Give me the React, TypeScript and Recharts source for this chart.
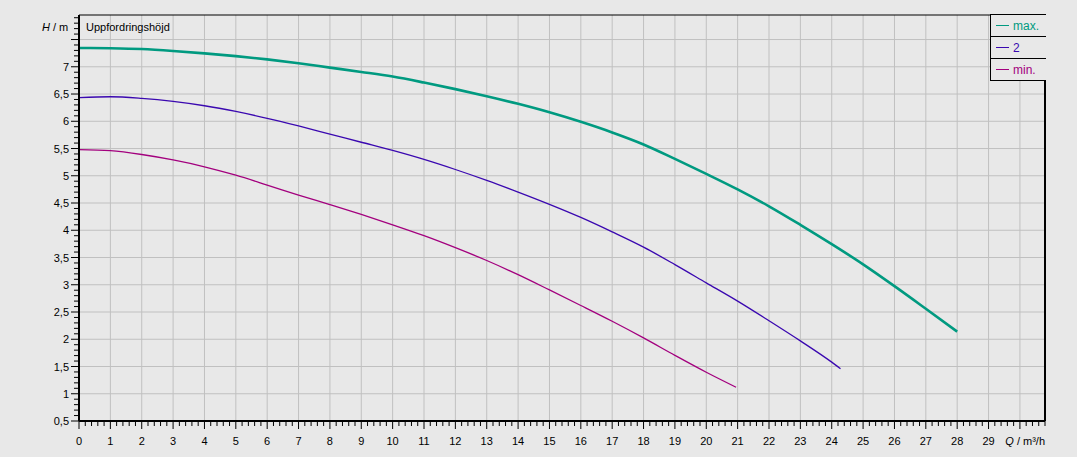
import React from 'react';
import { LineChart, Line, XAxis, YAxis, CartesianGrid, ReferenceLine } from 'recharts';

// pump curves, head H (m) over flow Q (m³/h)
const maxFlow = [0, 1, 2, 3, 4, 5, 6, 7, 8, 9, 10, 11, 12, 13, 14, 15, 16, 17, 18, 19, 20, 21, 22, 23, 24, 25, 26, 27, 28];
const maxHead = [7.345, 7.34, 7.325, 7.29, 7.245, 7.195, 7.135, 7.065, 6.985, 6.905, 6.82, 6.71, 6.59, 6.46, 6.32, 6.165, 5.99, 5.795, 5.575, 5.31, 5.035, 4.75, 4.44, 4.1, 3.745, 3.375, 2.975, 2.56, 2.14];

const midFlow = [0, 1, 2, 3, 4, 5, 6, 7, 8, 9, 10, 11, 12, 13, 14, 15, 16, 17, 18, 19, 20, 21, 22, 23, 24, 24.28];
const midHead = [6.435, 6.45, 6.42, 6.365, 6.285, 6.18, 6.055, 5.915, 5.765, 5.615, 5.465, 5.3, 5.115, 4.915, 4.7, 4.475, 4.235, 3.97, 3.69, 3.37, 3.035, 2.7, 2.34, 1.97, 1.58, 1.46];

const minFlow = [0, 1, 2, 3, 4, 5, 6, 7, 8, 9, 10, 11, 12, 13, 14, 15, 16, 17, 18, 19, 20, 20.95];
const minHead = [5.48, 5.46, 5.39, 5.29, 5.165, 5.01, 4.83, 4.645, 4.47, 4.29, 4.1, 3.9, 3.68, 3.445, 3.185, 2.905, 2.62, 2.33, 2.025, 1.705, 1.395, 1.12];

const seriesNames = ['max.', '2', 'min.'];
const seriesColors = ['#009a80', '#3a08b0', '#a3007e'];

const qDomain: [number, number] = [0, 30.8];
const hDomain: [number, number] = [0.5, 7.95];
const qMajor = [0, 1, 2, 3, 4, 5, 6, 7, 8, 9, 10, 11, 12, 13, 14, 15, 16, 17, 18, 19, 20, 21, 22, 23, 24, 25, 26, 27, 28, 29, 30];
const hMajor = [0.5, 1, 1.5, 2, 2.5, 3, 3.5, 4, 4.5, 5, 5.5, 6, 6.5, 7, 7.5];

// minor ticks: every 0.2 on Q, every 0.1 on H
const qTicks = Array.from({ length: 155 }, (_, i) => Math.round(i * 2) / 10);
const hTicks = Array.from({ length: 75 }, (_, i) => Math.round(5 + i) / 10);

const toPoints = (q: number[], h: number[]) => q.map((x, i) => ({ q: x, h: h[i] }));
const fmt = (v: number) => String(v).replace('.', ',');
const isMajor = (v: number, list: number[]) => list.some((m) => Math.abs(m - v) < 1e-6);

const FONT = '"Liberation Sans", Arial, sans-serif';

const YTick = (props: any) => {
  const { x, y, payload } = props;
  const v = payload.value;
  const major = isMajor(v, hMajor);
  return (
    <g>
      <line x1={x - (major ? 8 : 5)} x2={x} y1={y} y2={y} stroke="#000" />
      {major && v < 7.25 && (
        <text x={x - 10} y={y} dy={4} textAnchor="end" fontSize={11} fontFamily={FONT} fill="#000">
          {fmt(v)}
        </text>
      )}
    </g>
  );
};

const XTick = (props: any) => {
  const { x, y, payload } = props;
  const v = payload.value;
  const major = isMajor(v, qMajor);
  return (
    <g>
      <line x1={x} x2={x} y1={y} y2={y + (major ? 8 : 5)} stroke="#000" />
      {major && v < 29.5 && (
        <text x={x} y={y + 24} textAnchor="middle" fontSize={11} fontFamily={FONT} fill="#000">
          {fmt(v)}
        </text>
      )}
    </g>
  );
};

const LegendBox = () => (
  <div
    style={{
      position: 'absolute',
      left: 990,
      top: 14,
      width: 55,
      border: '1px solid #000',
      borderRight: 'none',
      background: '#e8e8e8',
    }}
  >
    {seriesNames.map((name, i) => (
      <div
        key={name}
        style={{
          height: 21,
          borderTop: i ? '1px solid #000' : 'none',
          display: 'flex',
          alignItems: 'center',
        }}
      >
        <span style={{ width: 13, borderTop: `1px solid ${seriesColors[i]}`, marginLeft: 5, marginRight: 4 }} />
        <span style={{ color: seriesColors[i], fontSize: 12, fontFamily: FONT }}>{name}</span>
      </div>
    ))}
  </div>
);

const textStyle: React.CSSProperties = {
  position: 'absolute',
  fontFamily: FONT,
  fontSize: 11,
  color: '#000',
  lineHeight: '12px',
  whiteSpace: 'nowrap',
};

export default function App() {
  const lines = [toPoints(maxFlow, maxHead), toPoints(midFlow, midHead), toPoints(minFlow, minHead)];
  return (
    <div style={{ position: 'fixed', left: 0, top: 0, width: 1077, height: 457, background: '#e8e8e8' }}>
      <LineChart width={1077} height={457} margin={{ top: 15, right: 32, bottom: 0, left: 0 }}>
        <CartesianGrid
          stroke="#c0c0c0"
          horizontalValues={hMajor.slice(1)}
          verticalValues={qMajor.slice(1)}
        />
        <XAxis
          type="number"
          dataKey="q"
          domain={qDomain}
          ticks={qTicks}
          interval={0}
          height={36}
          tickSize={0}
          tickMargin={0}
          tickLine={false}
          tick={<XTick />}
          axisLine={{ stroke: '#000', strokeWidth: 2 }}
          allowDataOverflow
        />
        <YAxis
          type="number"
          dataKey="h"
          domain={hDomain}
          ticks={hTicks}
          interval={0}
          width={79}
          tickSize={0}
          tickMargin={0}
          tickLine={false}
          tick={<YTick />}
          axisLine={{ stroke: '#000', strokeWidth: 2 }}
          allowDataOverflow
        />
        <ReferenceLine y={hDomain[1]} stroke="#000" strokeWidth={1} />
        <ReferenceLine x={qDomain[1]} stroke="#000" strokeWidth={2} />
        {lines.map((pts, i) => (
          <Line
            key={seriesNames[i]}
            data={pts}
            dataKey="h"
            name={seriesNames[i]}
            type="monotone"
            stroke={seriesColors[i]}
            strokeWidth={i === 0 ? 2.6 : 1.3}
            dot={false}
            isAnimationActive={false}
          />
        ))}
      </LineChart>
      <LegendBox />
      <span style={{ ...textStyle, left: 42, top: 21 }}>
        <i>H</i> / m
      </span>
      <span style={{ ...textStyle, left: 86, top: 21 }}>Uppfordringshöjd</span>
      <span style={{ ...textStyle, right: 1077 - 1045, top: 435 }}>
        <i>Q</i> / m³/h
      </span>
    </div>
  );
}
